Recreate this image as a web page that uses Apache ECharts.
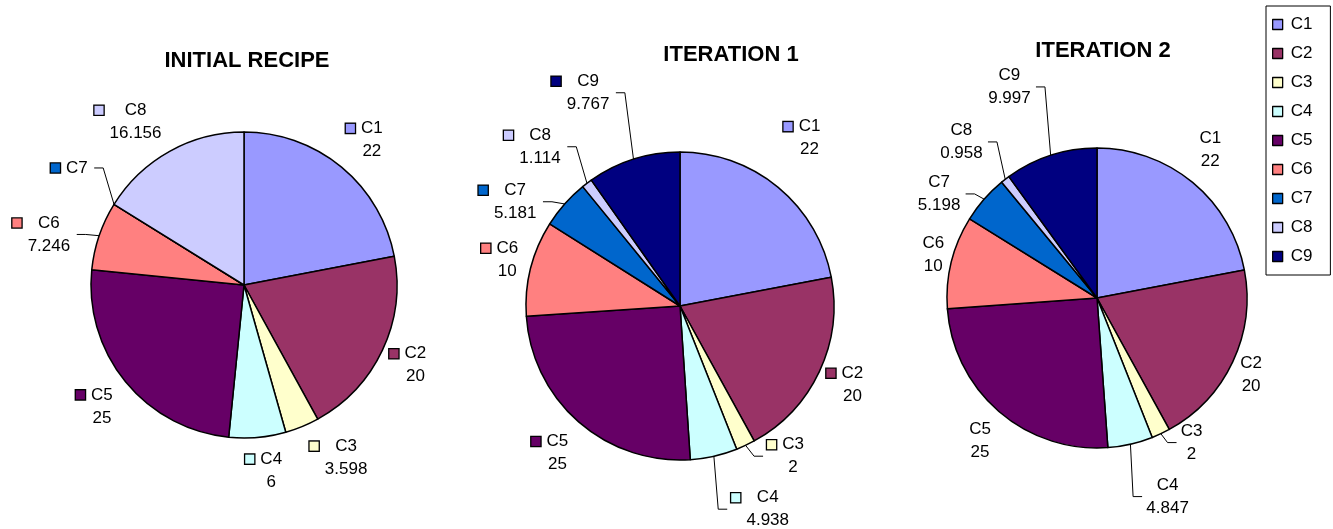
<!DOCTYPE html>
<html>
<head>
<meta charset="utf-8">
<script src="https://cdn.jsdelivr.net/npm/echarts@6/dist/echarts.min.js"></script>
<style>html,body{margin:0;padding:0;background:#fff}#c{width:1333px;height:529px}</style>
</head>
<body>
<div id="c"></div>
<script>
const categories = ['C1','C2','C3','C4','C5','C6','C7','C8','C9'];
const colors = ['#9999FF','#993366','#FFFFCC','#CCFFFF','#660066','#FF8080','#0066CC','#CCCCFF','#000080'];
const titles = ['INITIAL RECIPE','ITERATION 1','ITERATION 2'];
const initialValues = [22, 20, 3.598, 6, 25, 7.246, 0, 16.156, null];
const iter1Values = [22, 20, 2, 4.938, 25, 10, 5.181, 1.114, 9.767];
const iter2Values = [22, 20, 2, 4.847, 25, 10, 5.198, 0.958, 9.997];
// which labels carry a leader line in the original
const leaderLines = [
  ['C6', 'C7'],
  ['C3', 'C4', 'C7', 'C8', 'C9'],
  ['C3', 'C4', 'C7', 'C8', 'C9']
];

// label nudges (styling only), relative to ECharts' own outside placement
const labelNudge = [
  { C1: [-14, -18], C2: [-17, 10], C3: [-50, 20], C4: [-24, -15], C5: [10, 17], C6: [-6, 0], C7: [-5, -30], C8: [11, -19] },
  { C1: [-13, -40], C2: [-17, 8], C3: [-33, 0], C4: [4, 5], C5: [11, 22], C6: [14, -32], C7: [21, -42], C8: [16, -49], C9: [-7, -55] },
  { C1: [-13, -23], C2: [-18, 8], C3: [-36, -2], C4: [1, 4], C5: [12, 20], C6: [18, -33], C7: [24, -46], C8: [18, -50], C9: [-4, -57] }
];

const FONT = 'Liberation Sans, Arial, sans-serif';
const FS = 17, LH = 23;
const measureCtx = document.createElement('canvas').getContext('2d');
measureCtx.font = FS + 'px "Liberation Sans"';
const textW = t => Math.ceil(measureCtx.measureText(String(t)).width);

const rich = {
  g: { width: 6, height: 9, align: 'center' },
  kb: { width: 9, height: 9, align: 'center' }
};
colors.forEach((c, i) => {
  rich['k' + i] = { width: 9, height: 9, align: 'center', backgroundColor: c, borderColor: '#000', borderWidth: 1.3 };
});
function ensureWidthStyle(w) {
  const key = 'w' + w;
  if (!rich[key]) rich[key] = { width: w, align: 'center', fontSize: FS, fontFamily: FONT, color: '#000', lineHeight: LH };
  return key;
}

const layouts = [
  { center: [244, 285], radius: 153, keys: true },
  { center: [680, 306], radius: 154, keys: true },
  { center: [1097, 298], radius: 150, keys: false }
];
const allVals = [initialValues, iter1Values, iter2Values];

function labelText(s, name, value) {
  const idx = categories.indexOf(name);
  const keys = layouts[s].keys;
  const w = ensureWidthStyle(Math.max(textW(name), value === 0 ? 0 : textW(value)));
  let t = (keys ? '{k' + idx + '|}{g|}' : '') + '{' + w + '|' + name + '}';
  if (value !== 0) t += '\n' + (keys ? '{kb|}{g|}' : '') + '{' + w + '|' + value + '}';
  return t;
}

function makeData(vals, s) {
  const out = [];
  vals.forEach((v, i) => {
    if (v === null) return;
    out.push({ name: categories[i], value: v, itemStyle: { color: colors[i] },
               label: { formatter: labelText(s, categories[i], v) },
               labelLine: { show: leaderLines[s].indexOf(categories[i]) >= 0 } });
  });
  return out;
}

const series = allVals.map((vals, s) => {
  const data = makeData(vals, s);
  const total = data.reduce((a, d) => a + d.value, 0);
  const cum = [];
  data.reduce((a, d) => { cum.push(a); return a + d.value; }, 0);
  const [cx, cy] = layouts[s].center, r = layouts[s].radius;
  return {
    type: 'pie',
    center: layouts[s].center,
    radius: r,
    startAngle: 90,
    clockwise: true,
    animation: false,
    silent: true,
    avoidLabelOverlap: true,
    minShowLabelAngle: 0,
    stillShowZeroSum: true,
    data: data,
    itemStyle: { borderColor: '#000', borderWidth: 1.5 },
    label: {
      show: true,
      position: 'outside',
      alignTo: 'none',
      distanceToLabelLine: 3,
      color: '#000',
      fontFamily: FONT,
      fontSize: FS,
      lineHeight: LH,
      rich: rich
    },
    labelLine: { show: true, length: 12, length2: 9, lineStyle: { color: '#000', width: 1 } },
    labelLayout: p => {
      const d = data[p.dataIndex];
      const n = labelNudge[s][d.name] || [0, 0];
      const x = p.labelRect.x + n[0], y = p.labelRect.y + n[1];
      const res = { x: x, y: y, align: 'left', verticalAlign: 'top' };
      if (leaderLines[s].indexOf(d.name) >= 0) {
        // Excel-style leader: from the slice's mid-arc to the label's near side
        const th = 2 * Math.PI * (cum[p.dataIndex] + d.value / 2) / total;
        const ax = cx + r * Math.sin(th), ay = cy - r * Math.cos(th);
        const midY = y + p.labelRect.height / 2;
        let ex, bx;
        if (ax < x) { ex = x - 4; bx = ex - 9; } else { ex = x + p.labelRect.width + 5; bx = ex + 9; }
        res.labelLinePoints = [[ax, ay], [bx, midY], [ex, midY]];
      }
      return res;
    }
  };
});

const chart = echarts.init(document.getElementById('c'), null, { renderer: 'canvas' });
const titleStyle = { fontFamily: FONT, fontWeight: 'bold', fontSize: 22, color: '#000' };
chart.setOption({
  backgroundColor: '#fff',
  animation: false,
  title: [
    { text: titles[0], left: 242, top: 45, textAlign: 'center', textStyle: titleStyle },
    { text: titles[1], left: 726, top: 39, textAlign: 'center', textStyle: titleStyle },
    { text: titles[2], left: 1098, top: 35, textAlign: 'center', textStyle: titleStyle }
  ],
  legend: {
    data: categories,
    orient: 'vertical',
    left: 1266,
    top: 6,
    padding: [10, 18, 10, 6],
    itemWidth: 10,
    itemHeight: 10,
    itemGap: 12,
    icon: 'rect',
    borderColor: '#000',
    borderWidth: 1,
    selectedMode: false,
    itemStyle: { borderColor: '#000', borderWidth: 1.3 },
    textStyle: { fontFamily: FONT, fontSize: 17, color: '#000', padding: [0, 0, 0, 3] }
  },
  series: series
});
</script>
</body>
</html>
